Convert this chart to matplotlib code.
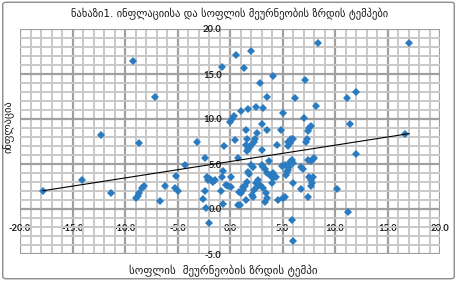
import matplotlib
matplotlib.use("Agg")
import matplotlib.pyplot as plt
from matplotlib.patches import FancyBboxPatch
from matplotlib.ticker import MultipleLocator, FormatStrFormatter
import numpy as np

title = "ნახაზი1. ინფლაციისა და სოფლის მეურნეობის ზრდის ტემპები"
xlabel = "სოფლის  მეურნეობის ზრდის ტემპი"
ylabel = "ინფლაცია"

# agricultural growth rate (x), inflation (y)
agri_growth = [
    -17.8, -14.1, -12.3, -11.3, -9.2, -8.7, -7.1, -8.95, -8.8, -8.65, -8.4, -8.2,
    -6.7, -6.2, -5.15, -5.2, -4.95, -4.25, -3.1, -2.4, -2.2, -1.9, -1.7, -1.45,
    -2.06, -1.6, -2.4, -2.55, -2.3, -2.0, -0.75, 0.55, 0.0, 0.15, 0.35, 0.45,
    -0.55, -0.65, -0.8, 0.05, -0.4, -0.15, -0.85, -0.65, 0.8, 0.85, 1.0,
    1.97, 1.37, 2.86, 4.06, 3.5, 6.2, 7.17, 8.4, 8.2, 11.1, 17.05, 12.0, 11.4,
    16.7, 12.0, 10.2, 11.2, 5.9, 6.0,
    1.75, 2.48, 3.17, 5.08, 7.08, 7.68, 7.55, 7.45, 7.3, 7.2, 7.45, 8.03, 7.9,
    7.75, 1.52, 3.08, 3.49, 2.54, 4.86, 1.6, 2.38, 2.28, 2.13, 1.9, 1.75, 1.52,
    1.65, 3.0, 4.44, 5.8, 6.03, 5.5, 5.7, 5.56, 0.8, 0.06, 1.97, 2.16, 1.75,
    1.85, 1.59, 1.4, 1.27, 1.0, 1.2, 1.52, 0.95, 2.3, 2.54, 2.48, 2.7, 2.06,
    2.2, 3.0, 3.17, 3.33, 3.75, 3.49, 3.8, 3.97, 4.13, 4.35, 4.06, 2.86, 3.17,
    3.43, 3.56, 3.33, 3.97, 4.6, 5.08, 5.24, 4.98, 5.24, 5.4, 5.56, 5.65, 5.7,
    5.87, 6.03, 5.33, 6.03, 6.76, 6.98, 6.76, 7.55, 7.7, 7.87, 7.78, 7.7, 7.46,
]
inflation = [
    2.0, 3.2, 8.2, 1.8, 16.5, 7.3, 12.5, 1.2, 1.5, 1.75, 2.3, 2.55,
    0.9, 2.55, 3.7, 2.3, 2.0, 4.9, 7.4, 5.7, 3.6, 3.3, 3.1, 3.2,
    3.2, 3.0, 2.0, 1.1, 0.1, -1.6, 15.8, 17.1, 9.7, 10.0, 10.3, 7.7,
    7.0, 4.2, 3.6, 3.6, 2.7, 2.6, 2.0, 0.6, 0.45, 1.9, 10.9,
    17.6, 15.7, 14.0, 14.8, 12.4, 12.3, 14.3, 18.5, 11.5, 12.3, 18.5, 13.0, 9.4,
    8.3, 6.1, 2.2, -0.3, -1.2, -3.5,
    11.1, 11.3, 11.2, 10.7, 10.15, 9.2, 8.95, 8.65, 7.8, 7.5, 5.5, 5.7, 5.6,
    5.35, 8.8, 9.5, 8.8, 8.5, 8.8, 7.8, 7.8, 7.5, 7.2, 6.9, 6.7, 7.1,
    6.4, 6.6, 7.1, 7.8, 7.8, 7.0, 7.3, 7.5, 5.7, 2.5, 4.9, 4.7, 4.15,
    3.9, 3.0, 2.6, 2.1, 1.8, 2.4, 1.0, 0.5, 2.1, 2.5, 2.9, 3.2, 1.55,
    1.35, 4.9, 4.7, 4.5, 5.3, 4.0, 3.8, 3.6, 3.4, 3.6, 4.0, 2.7, 2.3,
    1.75, 1.2, 0.8, 2.85, 1.05, 1.2, 1.37, 4.8, 4.9, 4.15, 4.3, 4.7, 5.25,
    5.4, 5.1, 3.8, 2.9, 4.7, 4.5, 2.2, 3.6, 3.2, 3.6, 2.85, 2.55, 1.35,
]
trend_coef = [0.182, 5.27]  # slope, intercept of linear trend

x_range = [-20, 20]
y_range = [-5, 20]

fig = plt.figure(figsize=(4.57, 2.81), dpi=100)
fig.patch.set_facecolor("white")
border = FancyBboxPatch((0.006, 0.008), 0.988, 0.984, boxstyle="round,pad=0,rounding_size=0.008",
                        transform=fig.transFigure, facecolor="none", edgecolor="#8c8c8c", lw=1.0)
fig.patches.append(border)

ax = fig.add_axes([20 / 457, 27 / 281, 420 / 457, 225 / 281])
ax.set_xlim(*x_range)
ax.set_ylim(*y_range)

ax.xaxis.set_major_locator(MultipleLocator(5))
ax.xaxis.set_minor_locator(MultipleLocator(1))
ax.yaxis.set_major_locator(MultipleLocator(5))
ax.yaxis.set_minor_locator(MultipleLocator(1))
ax.xaxis.set_major_formatter(FormatStrFormatter("%.1f"))
ax.yaxis.set_major_formatter(FormatStrFormatter("%.1f"))

ax.grid(which="minor", color="#c8c8c8", lw=1.4)
ax.grid(which="major", color="#a0a0a0", lw=1.6)
ax.set_axisbelow(True)

for s in ["top", "right"]:
    ax.spines[s].set_visible(False)
ax.spines["bottom"].set_position(("data", 0))
ax.spines["left"].set_position(("data", 0))
ax.spines["bottom"].set_color("none")
ax.spines["left"].set_color("none")
ax.tick_params(axis="both", which="both", length=0)
ax.tick_params(axis="x", pad=10.5)
ax.tick_params(axis="y", pad=6.0)
for lab in ax.get_xticklabels() + ax.get_yticklabels():
    lab.set_fontfamily("Lato")
    lab.set_fontweight("bold")
    lab.set_fontsize(6.8)
    lab.set_color("#1f1f1f")

xs = np.array(agri_growth)
ys = np.array(inflation)
ax.plot(xs, ys, linestyle="none", marker="D", markersize=4.3, color="#2b7bc0",
        markeredgewidth=0, zorder=3, clip_on=False)
tx = np.array([xs.min(), xs.max()])
ax.plot(tx, np.polyval(trend_coef, tx), color="black", lw=0.8, zorder=4)

fig.text(230 / 457, 1 - 14 / 281, title, ha="center", va="center",
         family=["DejaVu Sans"], fontsize=7.6, color="#1a1a1a")
fig.text(223 / 457, 1 - 271 / 281, xlabel, ha="center", va="center",
         family=["DejaVu Sans"], fontsize=7.9, color="#1a1a1a")
fig.text(8 / 457, 1 - 127 / 281, ylabel, ha="center", va="center", rotation=90,
         family=["DejaVu Sans"], fontsize=7.6, color="#1a1a1a")

fig.savefig("out.png", dpi=100)
